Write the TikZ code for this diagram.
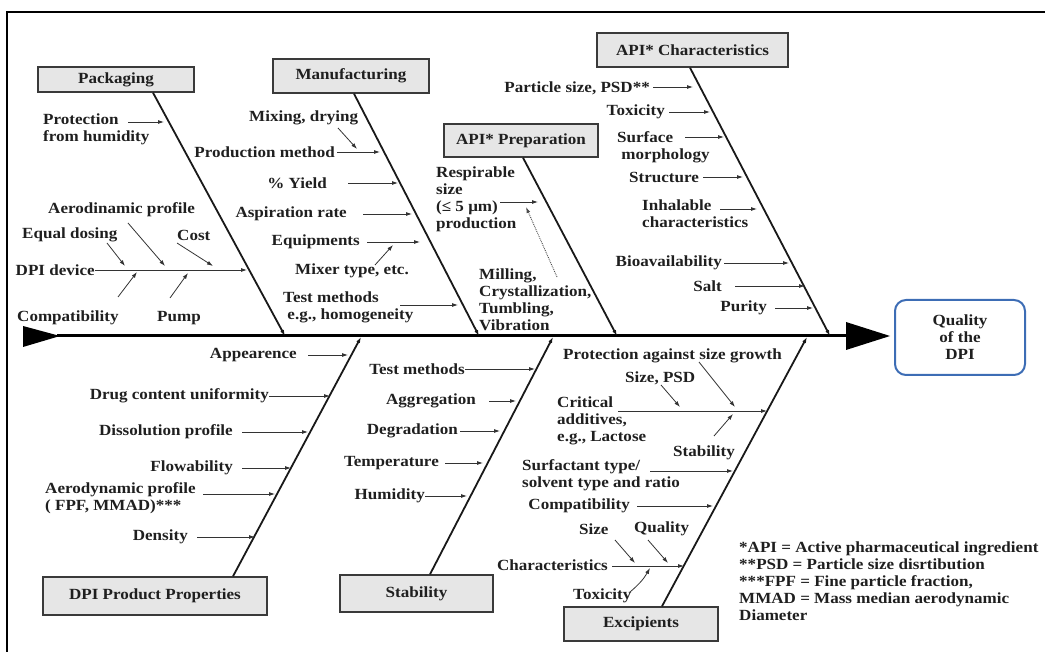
\documentclass[tikz,border=0pt]{standalone}
\usepackage{fontspec}
\setmainfont{Liberation Serif}[FakeStretch=1.1]
\usetikzlibrary{arrows.meta,calc}
\definecolor{boxfill}{HTML}{E6E6E6}
\definecolor{boxline}{HTML}{3A3A3A}
\definecolor{qblue}{HTML}{3D6DB5}
\begin{document}
\begin{tikzpicture}[x=1pt,y=-1pt,
  txt/.style={font=\bfseries\fontsize{15.5}{17}\selectfont, inner sep=0pt, text=black!88},
  cat/.style={txt, draw=boxline, fill=boxfill, line width=1.4pt, minimum height=32pt},
  bone/.style={line width=1.8pt, black!90, -{Latex[length=6pt,width=4pt]}},
  sub/.style={line width=0.8pt, black!80, -{Latex[length=6pt,width=4pt]}},
  plain/.style={line width=0.8pt, black!80}]
\useasboundingbox (0,0) rectangle (1045,652);
% frame
\draw[line width=2.4pt] (7,652) -- (7,12) -- (1045,12);

% spine
\coordinate (tail) at (57,336);
\coordinate (head) at (848,336);
\draw[line width=3pt] (tail) -- (head);
\fill (23,326) -- (60,336) -- (23,347) -- cycle;
\fill (846,322) -- (890,336) -- (846,350) -- cycle;
\node[txt, draw=qblue, line width=2pt, rounded corners=11pt, minimum width=130pt, minimum height=75pt, align=center] (quality) at (960,337.5) {Quality\\of the\\DPI};

% ---------- category boxes ----------
\node[cat, minimum width=156pt, minimum height=25pt] (pack) at (116,79.5) {Packaging};
\node[cat, minimum width=156pt, minimum height=34pt] (manu) at (351,76) {Manufacturing};
\node[cat, minimum width=154pt, minimum height=33pt] (prep) at (521,140.5) {API* Preparation};
\node[cat, minimum width=191pt, minimum height=34pt] (char) at (692.5,50) {API* Characteristics};
\node[cat, minimum width=224pt, minimum height=38pt] (prop) at (155,596) {DPI Product Properties};
\node[cat, minimum width=153pt, minimum height=37pt] (stab) at (416.5,593.5) {Stability};
\node[cat, minimum width=154pt, minimum height=34pt] (exci) at (641,624) {Excipients};

% spine points
\coordinate (s1) at (285,336);
\coordinate (s2) at (479,336);
\coordinate (s3) at (617,336);
\coordinate (s4) at (830,336);
\coordinate (s5) at (361,337);
\coordinate (s6) at (553,337);
\coordinate (s7) at (807,337);

% bones
\draw[bone] ([xshift=37pt]pack.south) -- (s1);
\draw[bone] ([xshift=3pt]manu.south) -- (s2);
\draw[bone] ([xshift=2pt]prep.south) -- (s3);
\draw[bone] ([xshift=-2.5pt]char.south) -- (s4);
\draw[bone] ([xshift=78pt]prop.north) -- (s5);
\draw[bone] ([xshift=13.5pt]stab.north) -- (s6);
\draw[bone] ([xshift=21pt]exci.north) -- (s7);

% ---------- Packaging ----------
\node[txt, align=left, anchor=west] (prot) at (43,129) {Protection\\from humidity};
\draw[sub] (128,122) -- (164,122);
\node[txt, anchor=east] (dpidev) at (95,270) {DPI device};
\draw[sub] (dpidev.east) -- (247,270);
\node[txt, anchor=west] (eqd) at (22,235) {Equal dosing};
\draw[sub] (107,243) -- (125,266);
\node[txt, anchor=west] (aerod) at (48,210) {Aerodinamic profile};
\draw[sub] (128,223) -- (165,266);
\node[txt, anchor=west] (cost) at (177,235) {Cost};
\draw[sub] (177,243) -- (213,266);
\node[txt, anchor=west] (compp) at (17,318) {Compatibility};
\draw[sub] (118,297) -- (137,272);
\node[txt, anchor=west] (pump) at (157,318) {Pump};
\draw[sub] (170,298) -- (188,273);

% ---------- Manufacturing ----------
\node[txt, anchor=west] (mix) at (249,118) {Mixing, drying};
\draw[sub] (338,128) -- (357,149);
\node[txt, anchor=east] (prodm) at (335,152) {Production method};
\draw[sub] ([xshift=2pt]prodm.east) -- (380,152);
\node[txt, anchor=east] (yield) at (327,183) {\% Yield};
\draw[sub] (348,183) -- (398,183);
\node[txt, anchor=east] (asp) at (347,214) {Aspiration rate};
\draw[sub] (363,214) -- (412,214);
\node[txt, anchor=east] (equip) at (360,242) {Equipments};
\draw[sub] (367,242) -- (420,242);
\node[txt, anchor=west] (mixer) at (295,271) {Mixer type, etc.};
\draw[sub] (375,265) -- (393,245);
\node[txt, align=left, anchor=west] (testm) at (283,307) {Test methods\\\ e.g., homogeneity};
\draw[sub] (400,305) -- (458,305);

% ---------- API Preparation ----------
\node[txt, align=left, anchor=west] (resp) at (436,199.5) {Respirable\\size\\(≤ 5 μm)\\production};
\draw[sub] (500,202) -- (538,202);
\node[txt, align=left, anchor=west] (mill) at (479,299.5) {Milling,\\Crystallization,\\Tumbling,\\Vibration};
\draw[line width=0.9pt, black!70, densely dotted, -{Latex[length=6pt,width=4pt]}] (557,277) -- (526,207);

% ---------- API Characteristics ----------
\node[txt, anchor=east] (psd) at (650,88) {Particle size, PSD**};
\draw[sub] (653,87) -- (693,87);
\node[txt, anchor=east] (toxc) at (665,112) {Toxicity};
\draw[sub] (669,112) -- (710,112);
\node[txt, align=left, anchor=west] (surf) at (617,147) {Surface\\\ morphology};
\draw[sub] (685,137) -- (724,137);
\node[txt, anchor=west] (struc) at (629,177.5) {Structure};
\draw[sub] (703,177) -- (743,177);
\node[txt, align=left, anchor=west] (inh) at (642,214) {Inhalable\\characteristics};
\draw[sub] (720,209) -- (757,209);
\node[txt, anchor=east] (bio) at (722,263) {Bioavailability};
\draw[sub] (724,263) -- (789,263);
\node[txt, anchor=east] (salt) at (722,286) {Salt};
\draw[sub] (735,286) -- (805,286);
\node[txt, anchor=east] (pur) at (767,308) {Purity};
\draw[sub] (775,308) -- (813,308);

% ---------- DPI Product Properties ----------
\node[txt, anchor=east] (app) at (297,355) {Appearence};
\draw[sub] (308,355) -- (348,355);
\node[txt, anchor=east] (drug) at (269,396) {Drug content uniformity};
\draw[sub] (drug.east) -- (330,396);
\node[txt, anchor=east] (diss) at (233,432) {Dissolution profile};
\draw[sub] (242,432) -- (308,432);
\node[txt, anchor=east] (flow) at (233,468) {Flowability};
\draw[sub] (242,468) -- (291,468);
\node[txt, align=left, anchor=west] (aero) at (45,498.5) {Aerodynamic profile\\( FPF, MMAD)***};
\draw[sub] (203,494) -- (275,494);
\node[txt, anchor=east] (dens) at (188,537) {Density};
\draw[sub] (197,537) -- (255,537);

% ---------- Stability ----------
\node[txt, anchor=east] (tms) at (465,369) {Test methods};
\draw[sub] (tms.east) -- (535,369);
\node[txt, anchor=east] (aggr) at (476,401) {Aggregation};
\draw[sub] (489,401) -- (516,401);
\node[txt, anchor=east] (degr) at (458,431) {Degradation};
\draw[sub] (460,431) -- (500,431);
\node[txt, anchor=east] (temp) at (439,463) {Temperature};
\draw[sub] (445,463) -- (483,463);
\node[txt, anchor=east] (humi) at (425,496) {Humidity};
\draw[sub] (humi.east) -- (467,496);

% ---------- Excipients ----------
\node[txt, anchor=west] (pasg) at (563,356) {Protection against size growth};
\draw[sub] (699,362) -- (735,407);
\node[txt, anchor=west] (spsd) at (625,378) {Size, PSD};
\draw[sub] (661,385) -- (680,407);
\node[txt, align=left, anchor=west] (crit) at (557,421) {Critical\\additives,\\e.g., Lactose};
\draw[sub] (618,411) -- (767,411);
\node[txt, anchor=west] (stabx) at (673,453) {Stability};
\draw[sub] (714,436) -- (733,414);
\node[txt, align=left, anchor=west] (surfa) at (522,475.5) {Surfactant type/\\solvent type and ratio};
\draw[sub] (650,471) -- (733,471);
\node[txt, anchor=east] (compx) at (630,506) {Compatibility};
\draw[sub] (637,506) -- (713,506);
\node[txt, anchor=west] (sizex) at (579,529) {Size};
\node[txt, anchor=west] (qual) at (634,529) {Quality};
\node[txt, anchor=east] (chars) at (608,565) {Characteristics};
\draw[sub] (612,566) -- (684,566);
\draw[sub] (615,540) -- (635,563);
\draw[sub] (648,540) -- (668,563);
\node[txt, anchor=west] (toxx) at (573,596) {Toxicity};
\draw[sub] (630,592) to[bend right=10] (650,568);

% ---------- legend ----------
\node[txt, align=left, anchor=west] (legend) at (739,581) {*API = Active pharmaceutical ingredient\\**PSD = Particle size disrtibution\\***FPF = Fine particle fraction,\\MMAD = Mass median aerodynamic\\Diameter};
\end{tikzpicture}
\end{document}
